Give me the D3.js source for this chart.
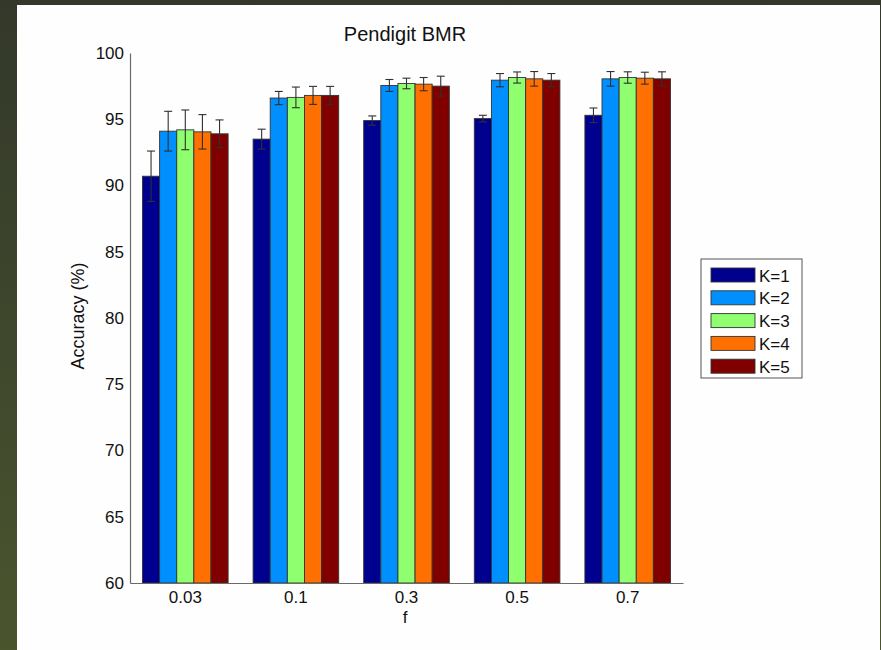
<!DOCTYPE html>
<html>
<head>
<meta charset="utf-8">
<script src="https://cdn.jsdelivr.net/npm/d3@7"></script>
<style>
  html, body { margin: 0; padding: 0; }
  body { width: 881px; height: 650px; overflow: hidden; }
  text { font-family: "Liberation Sans", Arial, sans-serif; }
</style>
</head>
<body>
<svg id="chart" width="881" height="650"></svg>
<script>
// Sampling fractions on the x axis
const fractions = ["0.03", "0.1", "0.3", "0.5", "0.7"];
// Number of neighbours K, one bar per value inside each group
const seriesNames = ["K=1", "K=2", "K=3", "K=4", "K=5"];
// Mean accuracy (%) per series, in fraction order
const accK1 = [90.7, 93.5, 94.9, 95.05, 95.3];
const accK2 = [94.1, 96.6, 97.55, 97.95, 98.05];
const accK3 = [94.2, 96.65, 97.7, 98.15, 98.15];
const accK4 = [94.05, 96.8, 97.65, 98.05, 98.1];
const accK5 = [93.9, 96.8, 97.5, 97.95, 98.05];
// Standard deviation (%) per series
const errK1 = [1.9, 0.75, 0.35, 0.25, 0.55];
const errK2 = [1.5, 0.5, 0.45, 0.5, 0.55];
const errK3 = [1.5, 0.78, 0.4, 0.42, 0.43];
const errK4 = [1.3, 0.68, 0.5, 0.55, 0.45];
const errK5 = [1.05, 0.68, 0.75, 0.5, 0.53];
const yTicks = [60, 65, 70, 75, 80, 85, 90, 95, 100];
const seriesColors = ["#00008f", "#008fff", "#8fff70", "#ff7000", "#800000"];

const accs = [accK1, accK2, accK3, accK4, accK5];
const errs = [errK1, errK2, errK3, errK4, errK5];

const svg = d3.select("#chart");

// Window backdrop and white figure area
const defs = svg.append("defs");
const grad = defs.append("linearGradient").attr("id", "bg").attr("x1", 0).attr("y1", 0).attr("x2", 0).attr("y2", 1);
grad.append("stop").attr("offset", 0).attr("stop-color", "#33382a");
grad.append("stop").attr("offset", 1).attr("stop-color", "#4a552e");
svg.append("rect").attr("width", 881).attr("height", 650).attr("fill", "url(#bg)");
svg.append("rect").attr("x", 17).attr("y", 5).attr("width", 863).attr("height", 645).attr("fill", "#fefefe");

const plot = { left: 130, right: 683, top: 53, bottom: 583 };

const x0 = d3.scaleBand().domain(fractions).range([plot.left, plot.right]).paddingInner(0).paddingOuter(0);
const x1 = d3.scaleBand().domain(seriesNames).range([0, x0.bandwidth()]).paddingInner(0).paddingOuter(0.73);
const y = d3.scaleLinear().domain([60, 100]).range([plot.bottom, plot.top]);

// Bars
const rows = [];
fractions.forEach((f, i) => {
  seriesNames.forEach((s, j) => {
    rows.push({ f, s, j, v: accs[j][i], e: errs[j][i] });
  });
});

const g = svg.append("g");
g.selectAll("rect.bar").data(rows).enter().append("rect")
  .attr("class", "bar")
  .attr("x", d => x0(d.f) + x1(d.s))
  .attr("y", d => y(d.v))
  .attr("width", x1.bandwidth())
  .attr("height", d => y(60) - y(d.v))
  .attr("fill", d => seriesColors[d.j])
  .attr("stroke", "#333")
  .attr("stroke-width", 0.9);

// Error bars
const eb = g.selectAll("g.err").data(rows).enter().append("g").attr("class", "err")
  .attr("stroke", "#303030").attr("stroke-width", 1.1);
const cx = d => x0(d.f) + x1(d.s) + x1.bandwidth() / 2;
const cap = 4;
eb.append("line").attr("x1", cx).attr("x2", cx).attr("y1", d => y(d.v - d.e)).attr("y2", d => y(d.v + d.e));
eb.append("line").attr("x1", d => cx(d) - cap).attr("x2", d => cx(d) + cap).attr("y1", d => y(d.v + d.e)).attr("y2", d => y(d.v + d.e));
eb.append("line").attr("x1", d => cx(d) - cap).attr("x2", d => cx(d) + cap).attr("y1", d => y(d.v - d.e)).attr("y2", d => y(d.v - d.e));

// Axes
const yAxis = d3.axisLeft(y).tickValues(yTicks).tickSize(0).tickPadding(6);
const yg = svg.append("g").attr("transform", `translate(${plot.left},0)`).call(yAxis);
const xAxis = d3.axisBottom(x0).tickSize(0).tickPadding(8);
const xg = svg.append("g").attr("transform", `translate(0,${plot.bottom})`).call(xAxis);
[yg, xg].forEach(a => {
  a.select(".domain").attr("stroke", "#6a6a6a").attr("stroke-width", 1.2);
  a.selectAll("text").attr("fill", "#111").style("font-size", "17px").style("font-family", "Liberation Sans, Arial, sans-serif");
});

// Titles
svg.append("text").attr("x", 405).attr("y", 41).attr("text-anchor", "middle")
  .style("font-size", "20px").attr("fill", "#111").text("Pendigit BMR");
svg.append("text").attr("x", 405).attr("y", 623).attr("text-anchor", "middle")
  .style("font-size", "17px").attr("fill", "#111").text("f");
svg.append("text").attr("transform", "translate(84,316) rotate(-90)").attr("text-anchor", "middle")
  .style("font-size", "18px").attr("fill", "#111").text("Accuracy (%)");

// Legend
const lg = svg.append("g").attr("transform", "translate(701,259)");
lg.append("rect").attr("width", 101).attr("height", 119).attr("fill", "#fff").attr("stroke", "#555").attr("stroke-width", 1);
const item = lg.selectAll("g.item").data(seriesNames).enter().append("g")
  .attr("transform", (d, i) => `translate(10,${9 + i * 22.8})`);
item.append("rect").attr("width", 44).attr("height", 14).attr("fill", (d, i) => seriesColors[i])
  .attr("stroke", "#333").attr("stroke-width", 0.9);
item.append("text").attr("x", 48).attr("y", 13.5).style("font-size", "17px").attr("fill", "#111").text(d => d);
</script>
</body>
</html>
